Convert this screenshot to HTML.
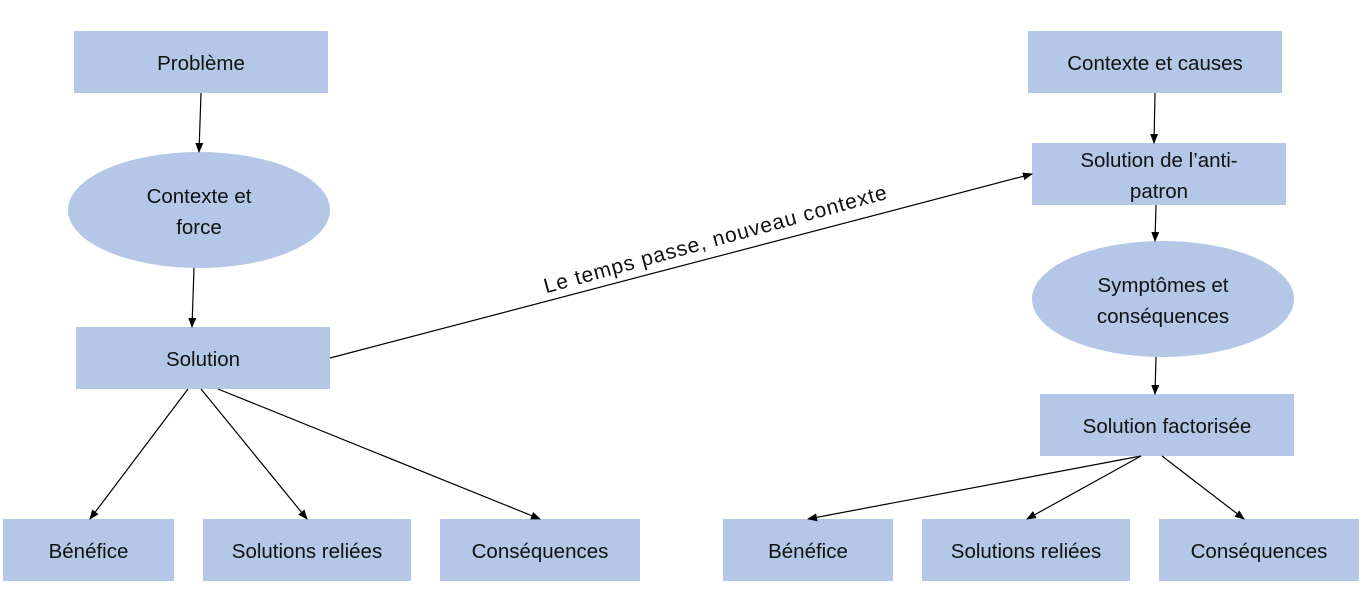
<!DOCTYPE html>
<html><head><meta charset="utf-8"><style>
body{margin:0;width:1365px;height:611px;background:#fff;overflow:hidden;position:relative;font-family:"Liberation Sans",sans-serif;}
.b{position:absolute;background:#b4c7e7;display:flex;align-items:center;justify-content:center;text-align:center;font-size:20.5px;color:#111;line-height:31px;box-sizing:border-box;padding-top:3px;}
.e{border-radius:50%;}
svg{position:absolute;left:0;top:0;}
</style></head><body>
<div class="b" style="left:74px;top:31px;width:254px;height:62px">Problème</div>
<div class="b e" style="left:68px;top:152px;width:262px;height:116px">Contexte et<br>force</div>
<div class="b" style="left:76px;top:327px;width:254px;height:62px">Solution</div>
<div class="b" style="left:3px;top:519px;width:171px;height:62px">Bénéfice</div>
<div class="b" style="left:203px;top:519px;width:208px;height:62px">Solutions reliées</div>
<div class="b" style="left:440px;top:519px;width:200px;height:62px">Conséquences</div>
<div class="b" style="left:1028px;top:31px;width:254px;height:62px">Contexte et causes</div>
<div class="b" style="left:1032px;top:143px;width:254px;height:62px">Solution de l’anti-<br>patron</div>
<div class="b e" style="left:1032px;top:241px;width:262px;height:116px">Symptômes et<br>conséquences</div>
<div class="b" style="left:1040px;top:394px;width:254px;height:62px">Solution factorisée</div>
<div class="b" style="left:723px;top:519px;width:170px;height:62px">Bénéfice</div>
<div class="b" style="left:922px;top:519px;width:208px;height:62px">Solutions reliées</div>
<div class="b" style="left:1159px;top:519px;width:200px;height:62px">Conséquences</div>
<svg width="1365" height="611">
<defs><marker id="a" markerWidth="10" markerHeight="8" refX="9" refY="4" orient="auto" markerUnits="userSpaceOnUse"><path d="M0,0 L10,4 L0,8 z" fill="#000"/></marker></defs>
<g stroke="#000" stroke-width="1.2" marker-end="url(#a)">
<line x1="201" y1="93" x2="199" y2="152"/>
<line x1="194" y1="268" x2="192" y2="327"/>
<line x1="188" y1="389" x2="90" y2="519"/>
<line x1="201" y1="389" x2="307" y2="519"/>
<line x1="218" y1="389" x2="540" y2="519"/>
<line x1="330" y1="358" x2="1032" y2="174"/>
<line x1="1155" y1="93" x2="1154" y2="143"/>
<line x1="1156" y1="205" x2="1155" y2="241"/>
<line x1="1156" y1="357" x2="1155" y2="394"/>
<line x1="1141" y1="456" x2="808" y2="519"/>
<line x1="1141" y1="456" x2="1027" y2="519"/>
<line x1="1162" y1="456" x2="1244" y2="519"/>
</g>
<text x="717" y="246" font-size="21" textLength="355" text-anchor="middle" fill="#111" font-family="Liberation Sans, sans-serif" transform="rotate(-15.5 717 246)">Le temps passe, nouveau contexte</text>
</svg>
</body></html>
